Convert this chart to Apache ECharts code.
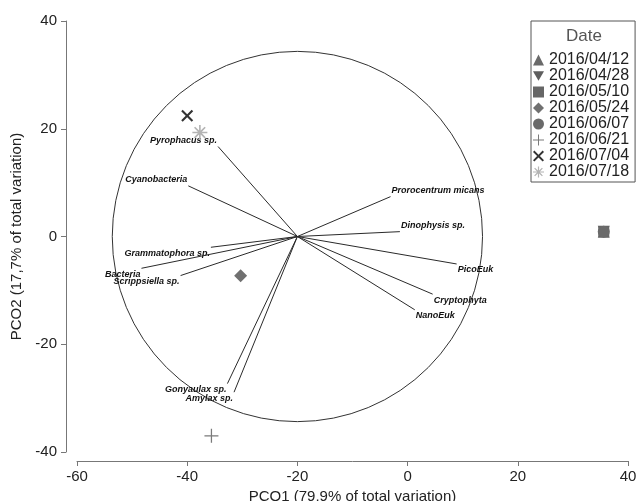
<!DOCTYPE html>
<html>
<head>
<meta charset="utf-8">
<script src="https://cdn.jsdelivr.net/npm/echarts@6/dist/echarts.min.js"></script>
<style>html,body{margin:0;padding:0;background:#fff}#c{width:638px;height:501px}</style>
</head>
<body>
<div id="c"></div>
<script>
// ---- data ----
const dates = ['2016/04/12','2016/04/28','2016/05/10','2016/05/24','2016/06/07','2016/06/21','2016/07/04','2016/07/18'];
const pcoX = [35.6, 35.6, 35.6, -30.3, 35.6, -35.6, -40.0, -37.7];
const pcoY = [0.9, 0.9, 0.9, -7.3, 0.9, -37.0, 22.4, 19.3];

const species = ['Pyrophacus sp.','Cyanobacteria','Grammatophora sp.','Bacteria','Scrippsiella sp.','Gonyaulax sp.','Amylax sp.','Prorocentrum micans','Dinophysis sp.','PicoEuk','Cryptophyta','NanoEuk'];
const vecX = [-34.4, -39.8, -35.7, -48.3, -41.2, -32.7, -31.5, -3.1, -1.4, 8.9, 4.55, 1.3];
const vecY = [16.7, 9.4, -2.0, -5.9, -7.25, -27.3, -28.9, 7.4, 0.9, -5.1, -10.7, -13.6];

const vecOrigin = [-20, 0];
const circleRadius = 33.6;

const xTicks = [-60, -40, -20, 0, 20, 40];
const yTicks = [-40, -20, 0, 20, 40];

// ---- styles ----
const FONT = 'Liberation Sans, Arial, sans-serif';
function starPath(arms, R, w) {
  const half = Math.PI / arms;
  const r = w / Math.sin(half);
  let d = '';
  for (let k = 0; k < arms; k++) {
    const t = k * 2 * Math.PI / arms;
    const c = Math.cos(t), s = Math.sin(t);
    const p1 = [R + R * c + w * s, R + R * s - w * c];
    const p2 = [R + R * c - w * s, R + R * s + w * c];
    const tm = t + half;
    const m = [R + r * Math.cos(tm), R + r * Math.sin(tm)];
    d += (k === 0 ? 'M' : 'L') + p1[0].toFixed(2) + ',' + p1[1].toFixed(2);
    d += 'L' + p2[0].toFixed(2) + ',' + p2[1].toFixed(2);
    d += 'L' + m[0].toFixed(2) + ',' + m[1].toFixed(2);
  }
  return 'path://' + d + 'Z';
}
const symbols = [
  'triangle',
  'path://M0,0L20,0L10,17.3Z',
  'rect',
  'diamond',
  'circle',
  starPath(4, 10, 0.9),
  'path://M0,2.5L2.5,0L10,7.5L17.5,0L20,2.5L12.5,10L20,17.5L17.5,20L10,12.5L2.5,20L0,17.5L7.5,10Z',
  starPath(8, 10, 1.1)
];
const symSizes = [12, 12, 11, 13, 12, 14, 12, 15];
const colors = ['#6a6a6a','#5e5e5e','#666666','#707070','#6a6a6a','#7a7a7a','#333333','#b4b4b4'];

const scatterSeries = dates.map((d, i) => ({
  name: d,
  type: 'scatter',
  symbol: symbols[i],
  symbolSize: symSizes[i],
  itemStyle: { color: colors[i], opacity: 1 },
  z: 10,
  data: [[pcoX[i], pcoY[i]]]
}));

const circleSeries = {
  type: 'custom',
  silent: true,
  z: 2,
  data: [[vecOrigin[0], vecOrigin[1], circleRadius]],
  renderItem: function (params, api) {
    const c = api.coord([api.value(0), api.value(1)]);
    const r = api.size([api.value(2), 0])[0];
    return { type: 'circle', shape: { cx: c[0], cy: c[1], r: r },
      style: { fill: 'none', stroke: '#333', lineWidth: 1 } };
  }
};

const vectorSeries = {
  type: 'custom',
  silent: true,
  z: 3,
  data: species.map((s, i) => [vecX[i], vecY[i], s]),
  renderItem: function (params, api) {
    const o = api.coord(vecOrigin);
    const x = api.value(0), y = api.value(1);
    const e = api.coord([x, y]);
    const right = x > vecOrigin[0];
    const above = y > 0;
    return {
      type: 'group',
      children: [
        { type: 'line', shape: { x1: o[0], y1: o[1], x2: e[0], y2: e[1] },
          style: { stroke: '#2a2a2a', lineWidth: 1 } },
        { type: 'text', x: e[0] + (right ? 1 : -1), y: e[1] + (above ? -6 : 6),
          style: { text: species[params.dataIndex], fill: '#111',
            font: 'italic bold 9px ' + FONT,
            textAlign: right ? 'left' : 'right', textVerticalAlign: 'middle' } }
      ]
    };
  }
};

const chart = echarts.init(document.getElementById('c'), null, { renderer: 'canvas' });
const axisCommon = {
  type: 'value',
  splitLine: { show: false },
  axisLine: { show: true, onZero: false, lineStyle: { color: '#777', width: 1 } },
  axisTick: { show: true, length: 5, lineStyle: { color: '#777' } },
  nameLocation: 'middle',
  nameTextStyle: { fontSize: 15, color: '#222', fontFamily: FONT }
};
chart.setOption({
  animation: false,
  backgroundColor: '#fff',
  grid: { left: 77, right: 10, top: 21, bottom: 49, containLabel: false, outerBoundsMode: 'none' },
  xAxis: Object.assign({}, axisCommon, {
    min: xTicks[0], max: xTicks[xTicks.length - 1], interval: 20, offset: 9,
    name: 'PCO1 (79,9% of total variation)', nameGap: 22,
    axisLabel: { fontSize: 15, color: '#222', margin: 8, fontFamily: FONT }
  }),
  yAxis: Object.assign({}, axisCommon, {
    min: yTicks[0], max: yTicks[yTicks.length - 1], interval: 20, offset: 11,
    name: 'PCO2 (17,7% of total variation)', nameGap: 34,
    axisLabel: { fontSize: 15, color: '#222', margin: 9, fontFamily: FONT }
  }),
  legend: {
    orient: 'vertical',
    left: 531, top: 21,
    padding: [31, 6, 2, 2],
    itemWidth: 11, itemHeight: 11, itemGap: 0,
    borderColor: '#555', borderWidth: 1,
    data: dates,
    textStyle: { fontSize: 16, color: '#222', fontFamily: FONT, lineHeight: 16 }
  },
  graphic: [{
    type: 'text', x: 584, y: 36,
    style: { text: 'Date', font: '17px ' + FONT, fill: '#555', textAlign: 'center', textVerticalAlign: 'middle' }
  }],
  series: [circleSeries, vectorSeries].concat(scatterSeries)
});
</script>
</body>
</html>
